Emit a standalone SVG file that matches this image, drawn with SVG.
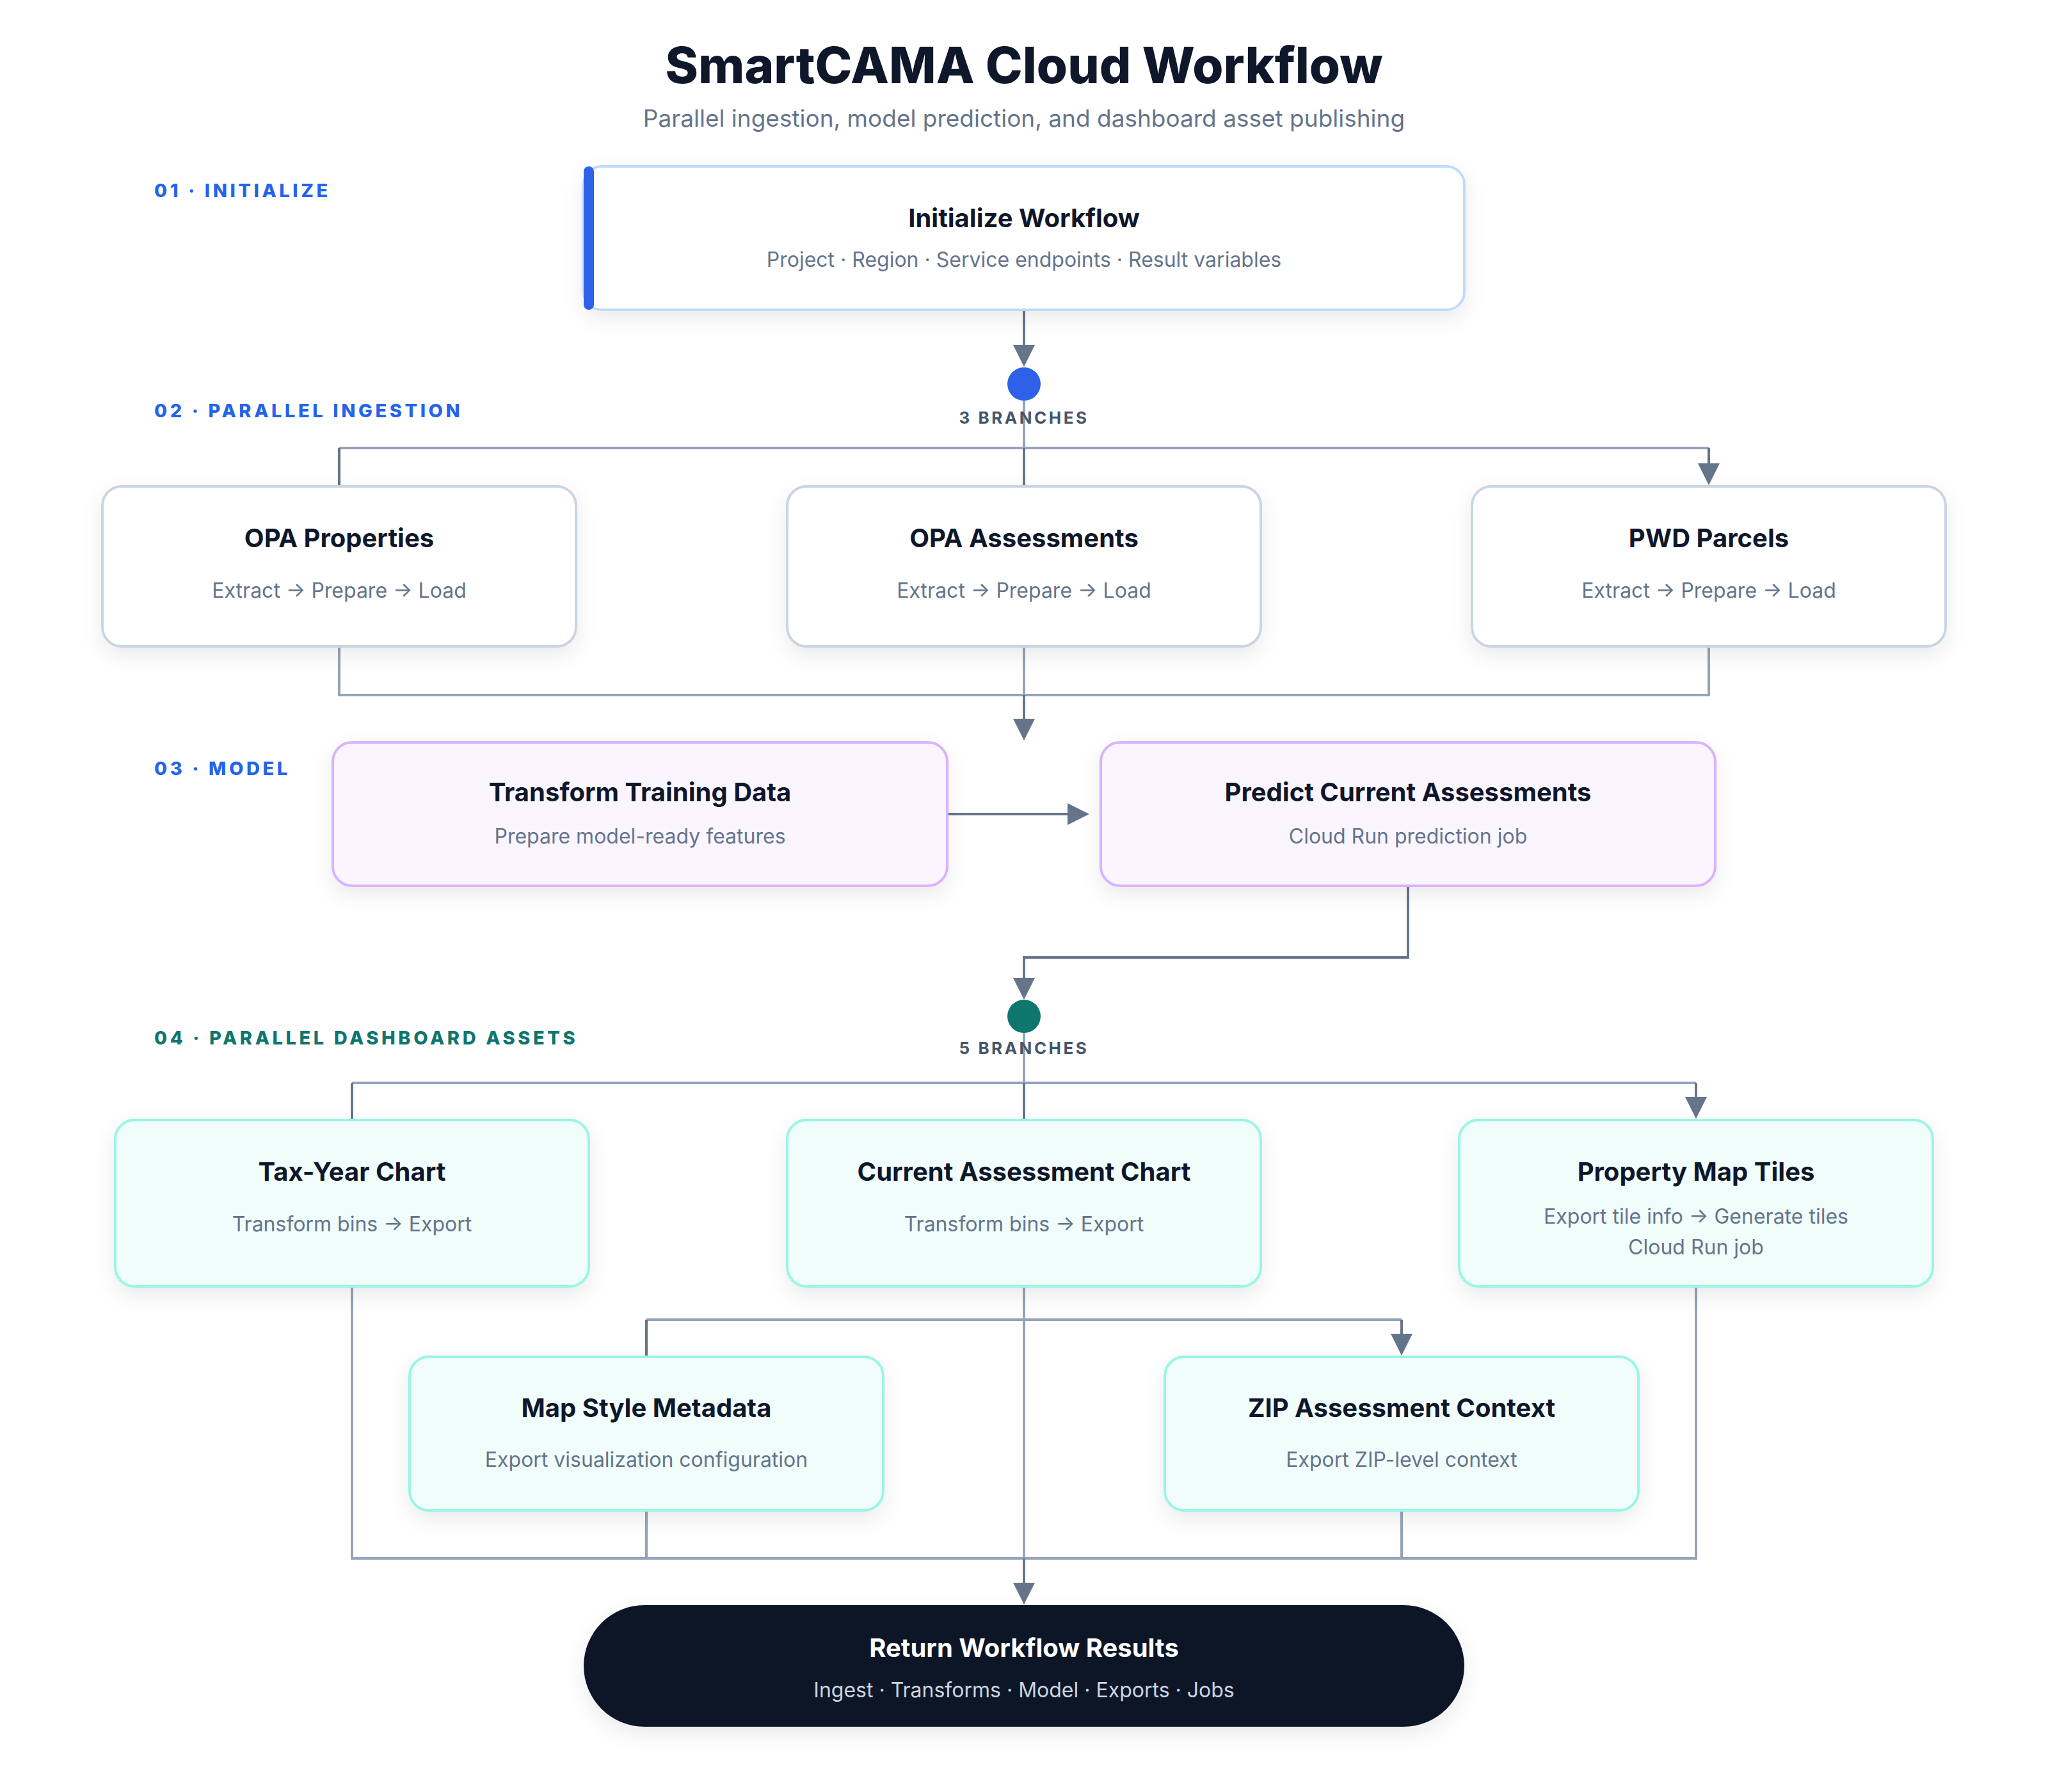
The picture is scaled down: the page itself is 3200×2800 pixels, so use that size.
<svg xmlns="http://www.w3.org/2000/svg" width="3200" height="2800" viewBox="0 0 3200 2800">
<defs>
<style>
text{font-family:Inter,"Noto Sans","Liberation Sans",sans-serif;}
.h1{font-size:78px;font-weight:800;fill:#0f172a;text-anchor:middle;}
.sub{font-size:37px;font-weight:400;fill:#64748b;text-anchor:middle;}
.sec{font-size:29px;font-weight:800;letter-spacing:4.6px;}
.blue{fill:#2563eb;}
.teal{fill:#0f766e;}
.nt{font-size:40px;font-weight:700;fill:#0f172a;text-anchor:middle;}
.ns{font-size:32px;font-weight:400;fill:#64748b;text-anchor:middle;}
.br{font-size:26px;font-weight:700;letter-spacing:3.5px;fill:#475569;text-anchor:middle;}
.card{fill:#ffffff;stroke:#cbd5e1;stroke-width:4;filter:url(#sh);}
.init{fill:#ffffff;stroke:#bfdbfe;stroke-width:4;filter:url(#sh);}
.model{fill:#faf5ff;stroke:#d8b4fe;stroke-width:4;filter:url(#sh);}
.asset{fill:#f0fdfa;stroke:#99f6e4;stroke-width:4;filter:url(#sh);}
.lt{fill:none;stroke:#94a3b8;stroke-width:4;}
.dk{fill:none;stroke:#64748b;stroke-width:4;}
.arr{marker-end:url(#ah);}
</style>
<filter id="sh" x="-10%" y="-20%" width="120%" height="150%">
<feDropShadow dx="0" dy="12" stdDeviation="16" flood-color="#0f172a" flood-opacity="0.08"/>
</filter>
<marker id="ah" viewBox="0 0 34 34" refX="30" refY="17" markerWidth="34" markerHeight="34" markerUnits="userSpaceOnUse" orient="auto">
<path d="M0,0 L34,17 L0,34 Z" fill="#64748b"/>
</marker>
</defs>
<rect width="3200" height="2800" fill="#ffffff"/>

<g id="header">
<text class="h1" x="1600" y="130">SmartCAMA Cloud Workflow</text>
<text class="sub" x="1600" y="198">Parallel ingestion, model prediction, and dashboard asset publishing</text>
</g>

<g id="section-labels">
<text class="sec blue" x="241" y="308">01 · INITIALIZE</text>
<text class="sec blue" x="241" y="652">02 · PARALLEL INGESTION</text>
<text class="sec blue" x="241" y="1211">03 · MODEL</text>
<text class="sec teal" x="241" y="1632">04 · PARALLEL DASHBOARD ASSETS</text>
</g>

<g id="connectors">
<path class="dk arr" d="M1600 484 V569"/>
<path class="lt" d="M1600 626 V700"/>
<path class="lt" d="M530 700 H2670"/>
<path class="dk" d="M530 700 V760"/>
<path class="dk" d="M1600 700 V760"/>
<path class="dk arr" d="M2670 700 V754"/>
<path class="lt" d="M530 1010 V1086 H2670 V1010"/>
<path class="lt" d="M1600 1010 V1086"/>
<path class="dk arr" d="M1600 1086 V1153"/>
<path class="dk arr" d="M1480 1272 H1698"/>
<path class="dk arr" d="M2200 1384 V1496 H1600 V1558"/>
<path class="lt" d="M1600 1614 V1692"/>
<path class="lt" d="M550 1692 H2650"/>
<path class="dk" d="M550 1692 V1750"/>
<path class="dk" d="M1600 1692 V1750"/>
<path class="dk arr" d="M2650 1692 V1744"/>
<path class="lt" d="M1600 2010 V2435"/>
<path class="lt" d="M1010 2062 H2190"/>
<path class="dk" d="M1010 2062 V2120"/>
<path class="dk arr" d="M2190 2062 V2114"/>
<path class="lt" d="M550 2010 V2435 H2650 V2010"/>
<path class="lt" d="M1010 2360 V2435"/>
<path class="lt" d="M2190 2360 V2435"/>
<path class="dk arr" d="M1600 2435 V2503"/>
</g>

<g id="node-initialize">
<rect class="init" x="912" y="260" width="1376" height="224" rx="28"/>
<rect x="912" y="260" width="16" height="224" rx="8" fill="#2f62e9"/>
<text class="nt" x="1600" y="355">Initialize Workflow</text>
<text class="ns" x="1600" y="417">Project · Region · Service endpoints · Result variables</text>
</g>

<g id="fork-ingestion">
<circle cx="1600" cy="600" r="26" fill="#2f62e9"/>
<text class="br" x="1600" y="662">3 BRANCHES</text>
</g>

<g id="node-opa-properties">
<rect class="card" x="160" y="760" width="740" height="250" rx="30"/>
<text class="nt" x="530" y="855">OPA Properties</text>
<text class="ns" x="530" y="934">Extract → Prepare → Load</text>
</g>
<g id="node-opa-assessments">
<rect class="card" x="1230" y="760" width="740" height="250" rx="30"/>
<text class="nt" x="1600" y="855">OPA Assessments</text>
<text class="ns" x="1600" y="934">Extract → Prepare → Load</text>
</g>
<g id="node-pwd-parcels">
<rect class="card" x="2300" y="760" width="740" height="250" rx="30"/>
<text class="nt" x="2670" y="855">PWD Parcels</text>
<text class="ns" x="2670" y="934">Extract → Prepare → Load</text>
</g>

<g id="node-transform-training">
<rect class="model" x="520" y="1160" width="960" height="224" rx="30"/>
<text class="nt" x="1000" y="1252">Transform Training Data</text>
<text class="ns" x="1000" y="1318">Prepare model-ready features</text>
</g>
<g id="node-predict">
<rect class="model" x="1720" y="1160" width="960" height="224" rx="30"/>
<text class="nt" x="2200" y="1252">Predict Current Assessments</text>
<text class="ns" x="2200" y="1318">Cloud Run prediction job</text>
</g>

<g id="fork-assets">
<circle cx="1600" cy="1588" r="26" fill="#0f766e"/>
<text class="br" x="1600" y="1647">5 BRANCHES</text>
</g>

<g id="node-tax-year-chart">
<rect class="asset" x="180" y="1750" width="740" height="260" rx="30"/>
<text class="nt" x="550" y="1845">Tax-Year Chart</text>
<text class="ns" x="550" y="1924">Transform bins → Export</text>
</g>
<g id="node-current-assessment-chart">
<rect class="asset" x="1230" y="1750" width="740" height="260" rx="30"/>
<text class="nt" x="1600" y="1845">Current Assessment Chart</text>
<text class="ns" x="1600" y="1924">Transform bins → Export</text>
</g>
<g id="node-property-map-tiles">
<rect class="asset" x="2280" y="1750" width="740" height="260" rx="30"/>
<text class="nt" x="2650" y="1845">Property Map Tiles</text>
<text class="ns" x="2650" y="1912">Export tile info → Generate tiles</text>
<text class="ns" x="2650" y="1960">Cloud Run job</text>
</g>
<g id="node-map-style">
<rect class="asset" x="640" y="2120" width="740" height="240" rx="30"/>
<text class="nt" x="1010" y="2214">Map Style Metadata</text>
<text class="ns" x="1010" y="2292">Export visualization configuration</text>
</g>
<g id="node-zip-context">
<rect class="asset" x="1820" y="2120" width="740" height="240" rx="30"/>
<text class="nt" x="2190" y="2214">ZIP Assessment Context</text>
<text class="ns" x="2190" y="2292">Export ZIP-level context</text>
</g>

<g id="node-return">
<rect x="912" y="2508" width="1376" height="190" rx="95" fill="#111827" filter="url(#sh)"/>
<text class="nt" x="1600" y="2589" style="fill:#ffffff">Return Workflow Results</text>
<text class="ns" x="1600" y="2652" style="fill:#cbd5e1">Ingest · Transforms · Model · Exports · Jobs</text>
</g>
</svg>
